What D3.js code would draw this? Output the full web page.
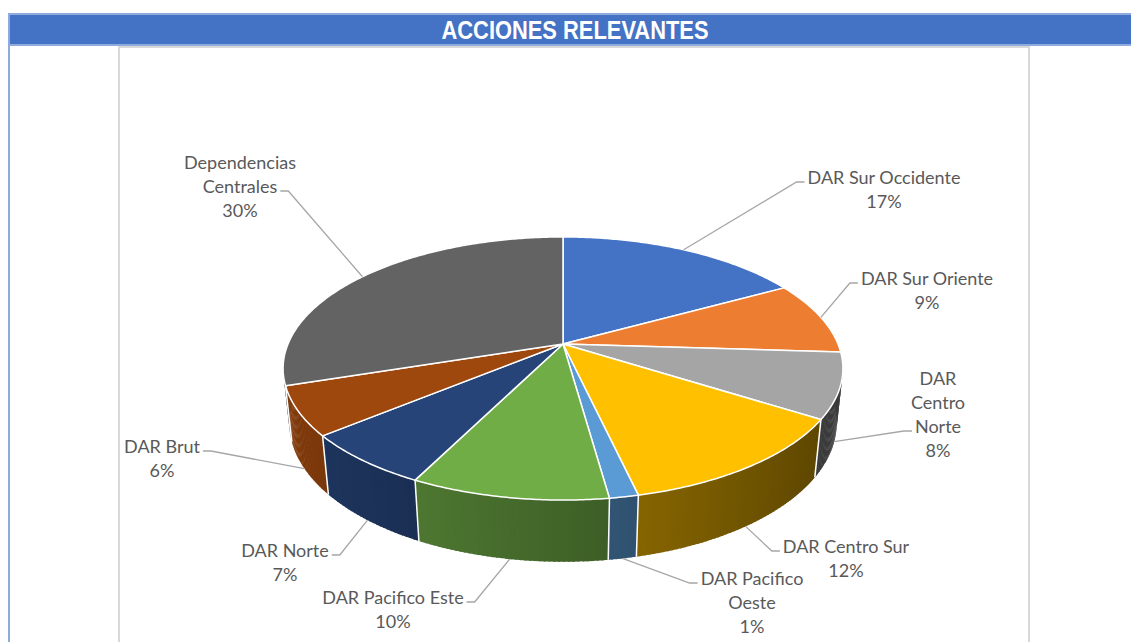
<!DOCTYPE html>
<html>
<head>
<meta charset="utf-8">
<script src="https://cdn.jsdelivr.net/npm/d3@7"></script>
<style>
  body { margin: 0; background: #fff; }
  svg { display: block; }
</style>
</head>
<body>
<div id="chart"></div>
<script>
const width = 1131;
const height = 642;

const categories = ['DAR Sur Occidente', 'DAR Sur Oriente', 'DAR Centro Norte', 'DAR Centro Sur',
  'DAR Pacifico Oeste', 'DAR Pacifico Este', 'DAR Norte', 'DAR Brut', 'Dependencias Centrales'];
const shares = [17, 9, 8, 12.4, 1.4, 9.6, 6.6, 6, 30];
const colors = ['#4472c4', '#ed7d31', '#a5a5a5', '#ffc000', '#5b9bd5', '#70ad47', '#264478', '#9e480e', '#636363'];
const label_lines = [['DAR Sur Occidente'], ['DAR Sur Oriente'], ['DAR', 'Centro', 'Norte'], ['DAR Centro Sur'],
  ['DAR Pacifico', 'Oeste'], ['DAR Pacifico Este'], ['DAR Norte'], ['DAR Brut'], ['Dependencias', 'Centrales']];

// where each label sits: centre x, middle of first line, line the leader hooks onto
const label_layout = [[884, 178, 0], [927, 279, 0], [938, 379, 2], [846, 547, 0], [752, 579, 0],
  [393, 598, 0], [285, 551, 0], [162, 447, 0], [240, 163, 1]];

const svg = d3.select('#chart')
  .append('svg')
    .attr('width', width)
    .attr('height', height);

// frames and title bar
svg.append('rect')
  .attr('x', 119).attr('y', 47).attr('width', 910).attr('height', 620)
  .attr('fill', 'none').attr('stroke', '#d9d9d9').attr('stroke-width', 2);
svg.append('line')
  .attr('x1', 9).attr('x2', 9).attr('y1', 40).attr('y2', height)
  .attr('stroke', '#8faadc').attr('stroke-width', 2);
svg.append('rect')
  .attr('x', 9).attr('y', 14).attr('width', width + 10).attr('height', 31)
  .attr('fill', '#4472c4').attr('stroke', '#8faadc').attr('stroke-width', 2);
svg.append('text')
  .attr('x', 575).attr('y', 38.5)
  .attr('text-anchor', 'middle')
  .attr('fill', '#fff')
  .attr('font-family', '"Liberation Sans Narrow", "Liberation Sans", Arial, sans-serif')
  .attr('font-weight', 'bold')
  .attr('font-size', 25)
  .attr('textLength', 267)
  .attr('lengthAdjust', 'spacingAndGlyphs')
  .text('ACCIONES RELEVANTES');

// 3d pie: circle in a horizontal plane, tilted and seen in perspective
const pie_cx = 563, pie_cy = 344, radius = 275, thickness = 62;
const tilt = 27.5 * Math.PI / 180, cam = 1310;
let project = (a, up) => {
  const X = radius * Math.sin(a), Z = -radius * Math.cos(a);
  const yp = -up * Math.cos(tilt) + Z * Math.sin(tilt);
  const w = up * Math.sin(tilt) + Z * Math.cos(tilt);
  const s = cam / (cam - w);
  return [pie_cx + X * s, pie_cy + yp * s];
};
let shade = (c, a) => {
  const f = Math.max(0.3, Math.min(0.9, 0.58 - 0.25 * Math.sin(a)));
  const col = d3.rgb(c);
  return d3.rgb(col.r * f, col.g * f, col.b * f).formatHex();
};

const arcs = d3.pie().sort(null).value(d => d)(shares);

// side walls, drawn back to front as thin overlapping strips so the shading runs across them
let strips = [];
arcs.forEach((d, i) => {
  const a0 = Math.max(d.startAngle, Math.PI / 2 - 0.25);
  const a1 = Math.min(d.endAngle, 3 * Math.PI / 2 + 0.25);
  if (a0 >= a1) return;
  const n = Math.max(1, Math.ceil((a1 - a0) / 0.015));
  for (let k = 0; k < n; k++) {
    const s = a0 + (a1 - a0) * k / n, e = a0 + (a1 - a0) * (k + 1) / n;
    strips.push({ s, e: k < n - 1 ? e + 0.006 : e, i, mid: (s + e) / 2 });
  }
});
strips.sort((p, q) => Math.cos(q.mid) - Math.cos(p.mid));

svg.append('g').selectAll('path')
    .data(strips)
  .join('path')
    .attr('d', d => d3.line()([project(d.s, 0), project(d.e, 0), project(d.e, -thickness), project(d.s, -thickness)]) + 'Z')
    .attr('fill', d => shade(colors[d.i], d.mid));

// white seams between slices on the visible wall
const seams = arcs.map(d => d.startAngle).filter(a => a > 1.7 && a < 4.6);
svg.append('g').selectAll('line')
    .data(seams)
  .join('line')
    .attr('x1', a => project(a, 0)[0]).attr('y1', a => project(a, 0)[1])
    .attr('x2', a => project(a, -thickness)[0]).attr('y2', a => project(a, -thickness)[1])
    .attr('stroke', '#fff').attr('stroke-width', 1.5);

// top faces
let top_path = d => {
  const n = Math.max(2, Math.ceil((d.endAngle - d.startAngle) / 0.01));
  const pts = [[pie_cx, pie_cy]];
  for (let k = 0; k <= n; k++) pts.push(project(d.startAngle + (d.endAngle - d.startAngle) * k / n, 0));
  return d3.line()(pts) + 'Z';
};
svg.append('g').selectAll('path')
    .data(arcs)
  .join('path')
    .attr('d', top_path)
    .attr('fill', (d, i) => colors[i])
    .attr('stroke', '#fff')
    .attr('stroke-width', 1.5)
    .attr('stroke-linejoin', 'round');

// labels with leader lines
const font_size = 18, line_h = 24;
const fmt = v => d3.format('.0f')(v) + '%';
const labels = svg.append('g')
  .attr('font-family', 'Lato, Calibri, sans-serif')
  .attr('font-size', font_size)
  .attr('fill', '#595959');

arcs.forEach((d, i) => {
  const [lx, ly, hook] = label_layout[i];
  const lines = label_lines[i].concat([fmt(shares[i])]);
  const text = labels.append('text').attr('text-anchor', 'middle');
  const spans = lines.map((l, k) => text.append('tspan')
    .attr('x', lx).attr('y', ly + k * line_h).attr('dy', '0.35em').text(l));

  const mid = (d.startAngle + d.endAngle) / 2;
  const start = project(mid, Math.cos(mid) < 0 ? -thickness : 0);
  const hw = spans[hook].node().getComputedTextLength() / 2;
  const hy = ly + hook * line_h + 4;
  const right = lx > start[0];
  const hx = right ? lx - hw - 3 : lx + hw + 3;
  const elbow = [right ? hx - 8 : hx + 8, hy];
  svg.insert('path', 'g:last-of-type')
    .attr('d', d3.line()([start, elbow, [hx, hy]]))
    .attr('fill', 'none')
    .attr('stroke', '#a6a6a6')
    .attr('stroke-width', 1.3);
});
</script>
</body>
</html>
